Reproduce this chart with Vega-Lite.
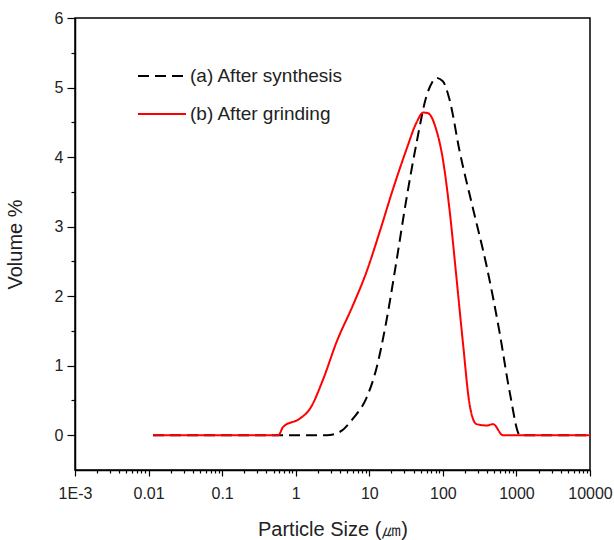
{
  "$schema": "https://vega.github.io/schema/vega-lite/v6.json",
  "width": 515,
  "height": 452,
  "autosize": {"type": "none"},
  "padding": {"left": 75, "top": 18, "right": 24, "bottom": 70},
  "background": "white",
  "config": {
    "font": "Liberation Sans",
    "view": {"stroke": "black", "strokeWidth": 1.5},
    "axis": {"grid": false, "domainColor": "black", "domainWidth": 1.5, "tickColor": "black", "tickWidth": 1.2, "labelColor": "#222", "titleColor": "#222", "labelFont": "Liberation Sans", "titleFont": "Liberation Sans", "titleFontWeight": "normal", "labelFontSize": 16, "titleFontSize": 20}
  },
  "data": {
    "values": [
      {"series": "(a) After synthesis", "x": 0.0115, "y": 0},
      {"series": "(a) After synthesis", "x": 0.6, "y": 0},
      {"series": "(a) After synthesis", "x": 2.63, "y": 0},
      {"series": "(a) After synthesis", "x": 4.0, "y": 0.05},
      {"series": "(a) After synthesis", "x": 6.0, "y": 0.24},
      {"series": "(a) After synthesis", "x": 9.1, "y": 0.53},
      {"series": "(a) After synthesis", "x": 12.5, "y": 0.96},
      {"series": "(a) After synthesis", "x": 17, "y": 1.63},
      {"series": "(a) After synthesis", "x": 23.3, "y": 2.49},
      {"series": "(a) After synthesis", "x": 32, "y": 3.4},
      {"series": "(a) After synthesis", "x": 44, "y": 4.21},
      {"series": "(a) After synthesis", "x": 60, "y": 4.88},
      {"series": "(a) After synthesis", "x": 72, "y": 5.08},
      {"series": "(a) After synthesis", "x": 81, "y": 5.14},
      {"series": "(a) After synthesis", "x": 100, "y": 5.09},
      {"series": "(a) After synthesis", "x": 123, "y": 4.83},
      {"series": "(a) After synthesis", "x": 170, "y": 4.07},
      {"series": "(a) After synthesis", "x": 258, "y": 3.25},
      {"series": "(a) After synthesis", "x": 392, "y": 2.44},
      {"series": "(a) After synthesis", "x": 590, "y": 1.48},
      {"series": "(a) After synthesis", "x": 810, "y": 0.62},
      {"series": "(a) After synthesis", "x": 1120, "y": 0},
      {"series": "(a) After synthesis", "x": 10000, "y": 0},
      {"series": "(b) After grinding", "x": 0.0115, "y": 0},
      {"series": "(b) After grinding", "x": 0.58, "y": 0},
      {"series": "(b) After grinding", "x": 0.675, "y": 0.12},
      {"series": "(b) After grinding", "x": 1.14, "y": 0.24},
      {"series": "(b) After grinding", "x": 1.56, "y": 0.38},
      {"series": "(b) After grinding", "x": 2.37, "y": 0.81},
      {"series": "(b) After grinding", "x": 3.59, "y": 1.34},
      {"series": "(b) After grinding", "x": 6.0, "y": 1.87},
      {"series": "(b) After grinding", "x": 9.1, "y": 2.34},
      {"series": "(b) After grinding", "x": 13.8, "y": 2.92},
      {"series": "(b) After grinding", "x": 21, "y": 3.54},
      {"series": "(b) After grinding", "x": 32, "y": 4.11},
      {"series": "(b) After grinding", "x": 44, "y": 4.5},
      {"series": "(b) After grinding", "x": 54, "y": 4.64},
      {"series": "(b) After grinding", "x": 63, "y": 4.63},
      {"series": "(b) After grinding", "x": 81, "y": 4.4},
      {"series": "(b) After grinding", "x": 100, "y": 3.97},
      {"series": "(b) After grinding", "x": 123, "y": 3.25},
      {"series": "(b) After grinding", "x": 152, "y": 2.3},
      {"series": "(b) After grinding", "x": 187, "y": 1.34},
      {"series": "(b) After grinding", "x": 232, "y": 0.43},
      {"series": "(b) After grinding", "x": 286, "y": 0.16},
      {"series": "(b) After grinding", "x": 392, "y": 0.14},
      {"series": "(b) After grinding", "x": 482, "y": 0.16},
      {"series": "(b) After grinding", "x": 655, "y": 0},
      {"series": "(b) After grinding", "x": 10000, "y": 0}
    ]
  },
  "mark": {"type": "line", "strokeWidth": 2, "clip": true, "interpolate": "monotone"},
  "encoding": {
    "x": {
      "field": "x", "type": "quantitative",
      "scale": {"type": "log", "domain": [0.001, 10000], "nice": false},
      "axis": {
        "title": "Particle Size (㎛)",
        "values": [0.001,0.002,0.003,0.004,0.005,0.006,0.007,0.008,0.009,0.01,0.02,0.03,0.04,0.05,0.06,0.07,0.08,0.09,0.1,0.2,0.3,0.4,0.5,0.6,0.7,0.8,0.9,1,2,3,4,5,6,7,8,9,10,20,30,40,50,60,70,80,90,100,200,300,400,500,600,700,800,900,1000,2000,3000,4000,5000,6000,7000,8000,9000,10000],
        "labelExpr": "abs(log(datum.value)/LN10 - round(log(datum.value)/LN10)) < 1e-6 ? (datum.value < 0.005 ? '1E-3' : format(datum.value, '')) : ''",
        "tickSize": {"condition": {"test": "abs(log(datum.value)/LN10 - round(log(datum.value)/LN10)) < 1e-6", "value": 6}, "value": 3},
        "labelPadding": 9,
        "labelFlush": false,
        "labelOverlap": false,
        "titlePadding": 18
      }
    },
    "y": {
      "field": "y", "type": "quantitative",
      "scale": {"domain": [-0.5, 6], "nice": false, "zero": false},
      "axis": {
        "title": "Volume %",
        "values": [0,0.5,1,1.5,2,2.5,3,3.5,4,4.5,5,5.5,6],
        "labelExpr": "datum.value % 1 == 0 ? format(datum.value, 'd') : ''",
        "tickSize": {"condition": {"test": "datum.value % 1 == 0", "value": 8}, "value": 4},
        "labelPadding": 4,
        "labelFlush": false,
        "labelOverlap": false,
        "titlePadding": 29
      }
    },
    "color": {
      "field": "series", "type": "nominal",
      "scale": {"domain": ["(a) After synthesis", "(b) After grinding"], "range": ["black", "#ff0000"]},
      "legend": {
        "title": null, "orient": "none", "legendX": 62, "legendY": 33,
        "symbolType": "stroke", "symbolSize": 2304, "symbolStrokeWidth": 2,
        "labelFontSize": 19, "labelColor": "#222", "labelOffset": 3, "rowPadding": 3, "padding": 0
      }
    },
    "strokeDash": {
      "field": "series", "type": "nominal",
      "scale": {"domain": ["(a) After synthesis", "(b) After grinding"], "range": [[11, 6], [1, 0]]},
      "legend": {
        "title": null, "orient": "none", "legendX": 62, "legendY": 33,
        "symbolType": "stroke", "symbolSize": 2304, "symbolStrokeWidth": 2,
        "labelFontSize": 19, "labelColor": "#222", "labelOffset": 3, "rowPadding": 3, "padding": 0
      }
    }
  }
}
